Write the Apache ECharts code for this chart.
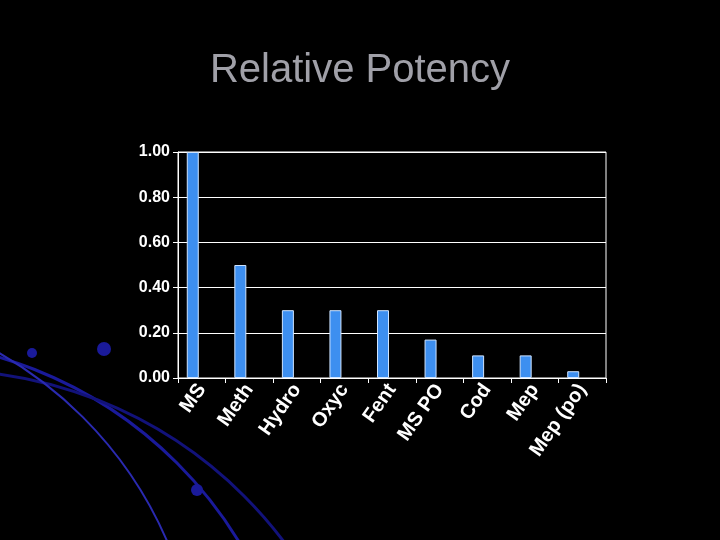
<!DOCTYPE html><html><head><meta charset="utf-8"><script src="https://cdn.jsdelivr.net/npm/echarts@6/dist/echarts.min.js"></script></head><body style="margin:0;background:#000"><div id="c" style="width:720px;height:540px"></div><script>
const categories=['MS','Meth','Hydro','Oxyc','Fent','MS PO','Cod','Mep','Mep (po)'];
const values=[1.0,0.5,0.3,0.3,0.3,0.17,0.1,0.1,0.03];
const c=echarts.init(document.getElementById('c'));
c.setOption({backgroundColor:'#000',animation:false,
title:{text:'Relative Potency',left:'center',top:46,textStyle:{color:'#a0a0a8',fontSize:40,fontWeight:'normal',fontFamily:'Liberation Sans'}},
graphic:[
{type:'circle',shape:{cx:-120,cy:760,r:420},style:{fill:'none',stroke:'#1a1a9a',lineWidth:3},silent:true},
{type:'circle',shape:{cx:-60,cy:800,r:430},style:{fill:'none',stroke:'#12127a',lineWidth:3},silent:true},
{type:'circle',shape:{cx:-200,cy:700,r:400},style:{fill:'none',stroke:'#2a2ab0',lineWidth:2},silent:true},
{type:'circle',shape:{cx:104,cy:349,r:7},style:{fill:'#1a1a9a'},silent:true},
{type:'circle',shape:{cx:32,cy:353,r:5},style:{fill:'#1a1a9a'},silent:true},
{type:'circle',shape:{cx:197,cy:490,r:6},style:{fill:'#1a1a9a'},silent:true}],
grid:{left:178,right:114,top:152,bottom:162,show:true,borderColor:'#fff',borderWidth:1},
xAxis:{type:'category',data:categories,axisLine:{lineStyle:{color:'#fff'}},axisTick:{show:true,lineStyle:{color:'#fff'}},
axisLabel:{color:'#fff',fontSize:20,fontWeight:'bold',fontFamily:'Liberation Sans',rotate:55,interval:0,margin:8}},
yAxis:{type:'value',min:0,max:1,interval:0.2,axisLine:{show:true,lineStyle:{color:'#fff'}},axisTick:{show:true,lineStyle:{color:'#fff'}},
splitLine:{lineStyle:{color:'#fff'}},axisLabel:{color:'#fff',fontSize:16,fontWeight:'bold',fontFamily:'Liberation Sans',formatter:v=>v.toFixed(2)}},
series:[{type:'bar',data:values,barWidth:12,barGap:'50%',itemStyle:{color:'#3d8ff0',borderColor:'#cfe4ff',borderWidth:1}},
{type:'bar',data:[],barWidth:12,silent:true}]});
</script></body></html>
